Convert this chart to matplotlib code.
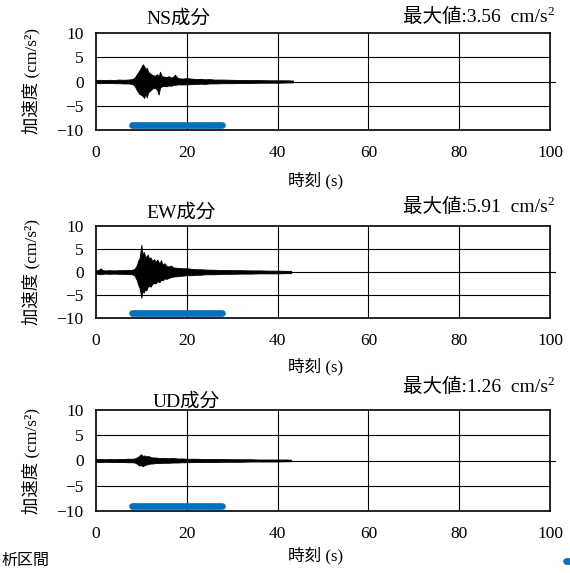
import matplotlib
matplotlib.use("Agg")
import matplotlib.pyplot as plt
from matplotlib.lines import Line2D

plt.rcParams['font.family'] = ['Liberation Serif', 'Noto Sans CJK JP']

# ---------------- data ----------------
components = ["NS成分", "EW成分", "UD成分"]
max_values = [3.56, 5.91, 1.26]

ns_t = [0, 1, 2, 3, 4, 5, 6, 7, 8, 8.5, 9, 9.5, 10, 10.3, 10.6, 10.9, 11.2, 11.5, 12, 12.5,
        13, 13.5, 13.8, 14.1, 14.5, 15, 15.5, 16, 16.5, 17, 17.4, 18, 19, 20, 21,
        22, 23, 24, 25, 26, 28, 30, 32, 34, 36, 38, 40, 42, 43.4]
ns_upper = [0.3, 0.35, 0.3, 0.35, 0.3, 0.4, 0.35, 0.4, 0.5, 0.8, 1.5, 2.2, 3.0, 3.56, 3.2,
            2.6, 2.8, 2.0, 1.6, 1.3, 1.2, 1.5, 1.0, 2.0, 1.1, 1.0, 0.9, 1.1, 0.8, 1.0,
            1.4, 0.7, 0.6, 0.7, 0.6, 0.5, 0.55, 0.45, 0.5, 0.4, 0.4, 0.35, 0.3, 0.3, 0.3,
            0.25, 0.25, 0.25, 0.2]
ns_lower = [-0.3, -0.35, -0.3, -0.3, -0.35, -0.35, -0.4, -0.4, -0.5, -0.9, -1.8, -2.5, -2.8,
            -3.0, -3.4, -2.5, -3.3, -2.2, -1.8, -1.4, -1.3, -1.8, -2.7, -1.3, -1.0, -0.9,
            -1.0, -0.8, -0.9, -0.7, -0.7, -0.6, -0.6, -0.6, -0.55, -0.5, -0.45, -0.5, -0.4,
            -0.4, -0.35, -0.35, -0.3, -0.3, -0.25, -0.25, -0.25, -0.2, -0.2]

ew_t = [0, 0.5, 1, 1.5, 2, 3, 4, 5, 6, 7, 8, 8.5, 9, 9.3, 9.6, 10, 10.2, 10.5, 10.8, 11.1,
        11.4, 11.7, 12, 12.4, 12.8, 13.1, 13.5, 14, 14.3, 14.7, 15.1, 15.5, 16, 16.5, 17,
        18, 19, 20, 21, 22, 23, 24, 25, 26, 27, 28, 30, 32, 34, 36, 38, 40, 42, 43]
ew_upper = [0.35, 0.4, 0.8, 0.4, 0.35, 0.4, 0.35, 0.4, 0.4, 0.45, 0.5, 0.7, 1.5, 2.5, 3.0,
            5.91, 3.8, 4.4, 3.6, 3.2, 3.8, 2.8, 3.2, 2.4, 2.8, 2.2, 2.7, 1.8, 2.6, 1.6,
            1.9, 1.3, 1.2, 1.4, 1.0, 0.9, 0.8, 0.8, 0.7, 0.6, 0.6, 0.55, 0.5, 0.5, 0.45,
            0.45, 0.4, 0.4, 0.35, 0.35, 0.3, 0.3, 0.25, 0.25]
ew_lower = [-0.35, -0.4, -0.5, -0.4, -0.35, -0.4, -0.35, -0.4, -0.4, -0.45, -0.5, -0.8,
            -1.8, -2.8, -3.5, -5.6, -4.2, -4.5, -3.8, -4.0, -3.2, -3.0, -3.2, -2.6, -2.4,
            -2.5, -2.0, -2.2, -1.7, -1.8, -1.4, -1.5, -1.3, -1.1, -1.0, -0.9, -0.8, -0.7,
            -0.7, -0.6, -0.6, -0.5, -0.5, -0.5, -0.45, -0.4, -0.4, -0.35, -0.35, -0.3,
            -0.3, -0.3, -0.25, -0.25]

ud_t = [0, 1, 2, 3, 4, 5, 6, 7, 8, 8.5, 9, 9.5, 9.9, 10.3, 10.7, 11.1, 11.5, 12, 12.5, 13,
        14, 15, 16, 17, 18, 19, 20, 22, 24, 26, 28, 30, 32, 34, 36, 38, 40, 42, 43]
ud_upper = [0.25, 0.3, 0.25, 0.3, 0.25, 0.3, 0.3, 0.35, 0.35, 0.4, 0.6, 0.9, 1.26, 0.9,
            1.0, 0.8, 0.9, 0.7, 0.6, 0.6, 0.5, 0.5, 0.45, 0.5, 0.4, 0.4, 0.35, 0.35, 0.3,
            0.3, 0.3, 0.25, 0.25, 0.25, 0.2, 0.2, 0.2, 0.2, 0.15]
ud_lower = [-0.25, -0.3, -0.25, -0.3, -0.3, -0.3, -0.3, -0.35, -0.35, -0.4, -0.6, -1.0,
            -0.9, -1.16, -0.9, -0.8, -0.7, -0.6, -0.6, -0.5, -0.5, -0.45, -0.45, -0.4,
            -0.4, -0.35, -0.35, -0.3, -0.3, -0.3, -0.25, -0.25, -0.25, -0.2, -0.2, -0.2,
            -0.2, -0.15, -0.15]

interval_start, interval_end, interval_level = 7.9, 27.8, -9.0
legend_label = "析区間"

x_ticks = [0, 20, 40, 60, 80, 100]
y_ticks = [-10, -5, 0, 5, 10]
y_tick_labels = ["−10", "−5", "0", "5", "10"]
x_label = "時刻 (s)"
y_label = "加速度 (cm/s²)"

waves = [(ns_t, ns_upper, ns_lower), (ew_t, ew_upper, ew_lower), (ud_t, ud_upper, ud_lower)]

# ---------------- layout (pixels) ----------------
W, H = 570, 573
fig = plt.figure(figsize=(W / 100, H / 100), dpi=100)

def fx(px):
    return px / W

def fy(py):
    return 1 - py / H

axes_px = [(96, 550, 33, 130), (96, 550, 226, 318), (96, 550, 410, 511)]
title_px = [(178, 19), (181, 213), (186, 402)]
max_py = [17, 207, 387]
xlabel_py = [181, 367, 556]
blue = "#0070C0"

for i in range(3):
    l, r, t, b = axes_px[i]
    ax = fig.add_axes([fx(l), fy(b), fx(r) - fx(l), fy(t) - fy(b)])
    ax.set_xlim(0, 100)
    ax.set_ylim(-10, 10)
    ax.set_xticks(x_ticks)
    ax.set_yticks(y_ticks)
    ax.set_yticklabels(y_tick_labels)
    ax.tick_params(length=0, labelsize=12.5, pad=9)
    ax.tick_params(axis='x', pad=11)
    for s in ax.spines.values():
        s.set_linewidth(1.2)
        s.set_color("black")
    for xv in x_ticks[1:-1]:
        ax.axvline(xv, color="black", lw=0.8, zorder=1)
    for yv in [-5, 5]:
        ax.axhline(yv, color="black", lw=0.8, zorder=1)
    ax.plot([0, 101], [0, 0], color="black", lw=0.8, zorder=1, clip_on=False)
    tt, up, lo = waves[i]
    ax.fill_between(tt, lo, up, color="black", lw=0.6, edgecolor="black", zorder=3)
    ax.plot([interval_start, interval_end], [interval_level, interval_level],
            color=blue, lw=4.8, solid_capstyle="round", zorder=4)

    fig.text(fx(title_px[i][0]), fy(title_px[i][1]), components[i],
             ha="center", va="center", fontsize=14)
    # max value text with superscript drawn as a separate small text
    fig.text(fx(554), fy(max_py[i] - 5), "2", ha="right", va="center", fontsize=9.5)
    fig.text(fx(548), fy(max_py[i]), "最大値:%.2f  cm/s" % max_values[i],
             ha="right", va="center", fontsize=14)
    fig.text(fx(316), fy(xlabel_py[i]), x_label, ha="center", va="center", fontsize=12)
    fig.text(fx(31), fy((t + b) / 2), y_label, ha="center", va="center",
             rotation=90, fontsize=12.5)

# cropped legend remnants at the bottom
fig.text(fx(50), fy(561), legend_label, ha="right", va="center", fontsize=11.5)
fig.add_artist(Line2D([fx(566), fx(575)], [fy(561), fy(561)], color=blue, lw=4.8,
                      solid_capstyle="round", transform=fig.transFigure))

fig.savefig("out.png", dpi=100)
